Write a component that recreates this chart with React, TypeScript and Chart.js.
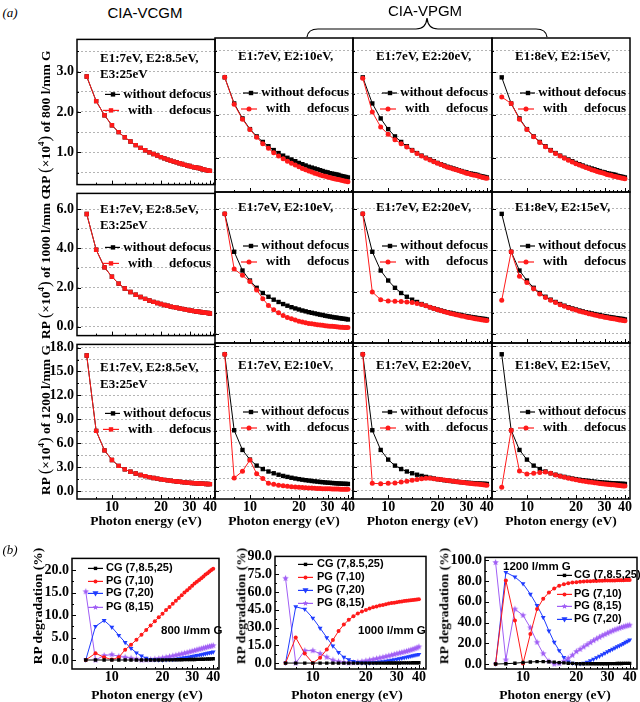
import React, { useEffect, useRef } from 'react';
import { Chart, registerables } from 'chart.js';
Chart.register(...registerables);

const SERIF = "'Liberation Serif', 'Times New Roman', serif";
const SANS = "'Liberation Sans', Arial, sans-serif";

// ---------------- DATA ----------------
const ENERGY = [7, 8, 9, 10, 11, 12, 13, 14, 15, 16, 17, 18, 19, 20, 21, 22, 23, 24, 25, 26, 27, 28, 29, 30, 31, 32, 33, 34, 35, 36, 37, 38, 39, 40];

// (a) RP (x10^4) of 800 l/mm G
const RP800_WITHOUT = [2.88, 2.27, 1.92, 1.67, 1.50, 1.37, 1.27, 1.18, 1.11, 1.05, 1.00, 0.96, 0.92, 0.88, 0.85, 0.82, 0.79, 0.77, 0.75, 0.73, 0.71, 0.69, 0.67, 0.66, 0.64, 0.63, 0.62, 0.61, 0.60, 0.58, 0.57, 0.56, 0.55, 0.54];
const RP800_WITH_CG = [2.88, 2.27, 1.92, 1.67, 1.50, 1.37, 1.27, 1.18, 1.11, 1.05, 1.00, 0.96, 0.92, 0.88, 0.85, 0.82, 0.79, 0.77, 0.75, 0.73, 0.71, 0.69, 0.67, 0.66, 0.64, 0.63, 0.62, 0.61, 0.60, 0.58, 0.57, 0.56, 0.55, 0.54];
const RP800_WITH_710 = [2.88, 2.25, 1.90, 1.66, 1.48, 1.33, 1.22, 1.12, 1.04, 0.98, 0.92, 0.87, 0.83, 0.79, 0.75, 0.72, 0.69, 0.67, 0.64, 0.62, 0.60, 0.58, 0.57, 0.55, 0.54, 0.52, 0.51, 0.50, 0.49, 0.48, 0.47, 0.46, 0.45, 0.44];
const RP800_WITH_720 = [2.86, 2.07, 1.72, 1.55, 1.42, 1.33, 1.25, 1.17, 1.10, 1.04, 0.99, 0.95, 0.91, 0.87, 0.84, 0.81, 0.78, 0.76, 0.74, 0.72, 0.70, 0.68, 0.66, 0.64, 0.63, 0.61, 0.60, 0.59, 0.58, 0.56, 0.55, 0.54, 0.53, 0.52];
const RP800_WITH_815 = [2.42, 2.27, 1.90, 1.66, 1.49, 1.36, 1.26, 1.17, 1.10, 1.04, 0.99, 0.94, 0.90, 0.86, 0.83, 0.80, 0.77, 0.75, 0.72, 0.70, 0.68, 0.66, 0.65, 0.63, 0.61, 0.60, 0.59, 0.57, 0.56, 0.55, 0.54, 0.53, 0.52, 0.51];

// (a) RP (x10^4) of 1000 l/mm G
const RP1000_WITHOUT = [5.75, 3.93, 3.03, 2.55, 2.20, 1.95, 1.77, 1.63, 1.52, 1.42, 1.34, 1.27, 1.21, 1.16, 1.11, 1.07, 1.03, 1.00, 0.97, 0.94, 0.91, 0.89, 0.86, 0.84, 0.82, 0.80, 0.78, 0.77, 0.75, 0.74, 0.72, 0.71, 0.70, 0.68];
const RP1000_WITH_CG = [5.75, 3.93, 3.03, 2.55, 2.20, 1.95, 1.77, 1.63, 1.52, 1.42, 1.34, 1.27, 1.21, 1.16, 1.11, 1.07, 1.03, 1.00, 0.97, 0.94, 0.91, 0.89, 0.86, 0.84, 0.82, 0.80, 0.78, 0.77, 0.75, 0.74, 0.72, 0.71, 0.70, 0.68];
const RP1000_WITH_710 = [5.75, 3.10, 2.80, 2.50, 2.10, 1.68, 1.35, 1.15, 1.00, 0.87, 0.78, 0.71, 0.65, 0.60, 0.56, 0.52, 0.49, 0.47, 0.45, 0.43, 0.41, 0.40, 0.38, 0.37, 0.36, 0.35, 0.34, 0.33, 0.32, 0.31, 0.31, 0.30, 0.30, 0.29];
const RP1000_WITH_720 = [5.75, 2.00, 1.63, 1.57, 1.55, 1.54, 1.52, 1.49, 1.45, 1.40, 1.34, 1.27, 1.21, 1.15, 1.10, 1.05, 1.01, 0.97, 0.94, 0.91, 0.88, 0.85, 0.83, 0.80, 0.78, 0.76, 0.74, 0.72, 0.70, 0.69, 0.67, 0.66, 0.64, 0.63];
const RP1000_WITH_815 = [1.60, 3.93, 2.75, 2.45, 2.15, 1.90, 1.73, 1.60, 1.49, 1.39, 1.31, 1.24, 1.18, 1.13, 1.08, 1.04, 1.00, 0.96, 0.93, 0.90, 0.87, 0.84, 0.82, 0.79, 0.77, 0.75, 0.73, 0.71, 0.70, 0.68, 0.66, 0.65, 0.63, 0.62];

// (a) RP (x10^4) of 1200 l/mm G
const RP1200_WITHOUT = [17.0, 7.55, 5.10, 3.90, 3.15, 2.72, 2.42, 2.20, 2.02, 1.87, 1.75, 1.64, 1.55, 1.47, 1.40, 1.34, 1.29, 1.24, 1.20, 1.16, 1.12, 1.09, 1.06, 1.03, 1.01, 0.99, 0.97, 0.95, 0.93, 0.92, 0.90, 0.89, 0.88, 0.87];
const RP1200_WITH_CG = [17.0, 7.55, 5.10, 3.90, 3.15, 2.72, 2.42, 2.20, 2.02, 1.87, 1.75, 1.64, 1.55, 1.47, 1.40, 1.34, 1.29, 1.24, 1.20, 1.16, 1.12, 1.09, 1.06, 1.03, 1.01, 0.99, 0.97, 0.95, 0.93, 0.92, 0.90, 0.89, 0.88, 0.87];
const RP1200_WITH_710 = [17.0, 1.60, 2.45, 3.85, 2.15, 1.55, 0.95, 0.82, 0.72, 0.64, 0.58, 0.53, 0.49, 0.46, 0.43, 0.40, 0.38, 0.36, 0.34, 0.32, 0.30, 0.29, 0.28, 0.27, 0.26, 0.25, 0.24, 0.23, 0.23, 0.22, 0.22, 0.21, 0.21, 0.20];
const RP1200_WITH_720 = [17.0, 0.95, 0.90, 0.95, 1.00, 1.10, 1.20, 1.32, 1.43, 1.52, 1.58, 1.57, 1.52, 1.47, 1.42, 1.36, 1.31, 1.26, 1.21, 1.16, 1.12, 1.08, 1.04, 1.00, 0.97, 0.94, 0.91, 0.88, 0.85, 0.82, 0.79, 0.76, 0.73, 0.70];
const RP1200_WITH_815 = [0.45, 7.55, 2.48, 2.10, 2.20, 2.30, 2.35, 2.20, 2.00, 1.84, 1.70, 1.58, 1.48, 1.39, 1.31, 1.24, 1.18, 1.12, 1.07, 1.02, 0.98, 0.94, 0.90, 0.87, 0.84, 0.81, 0.78, 0.76, 0.73, 0.71, 0.68, 0.66, 0.63, 0.61];

// (b) RP degradation (%)
const DEG800_CG = [0, 0, 0, 0, 0, 0, 0, 0, 0, 0, 0, 0, 0, 0, 0.02, 0.03, 0.04, 0.05, 0.06, 0.07, 0.08, 0.09, 0.10, 0.11, 0.12, 0.14, 0.15, 0.17, 0.18, 0.20, 0.22, 0.24, 0.26, 0.28];
const DEG800_PG710 = [0, 1.5, 0.6, 0.1, 0.6, 2.3, 3.4, 4.5, 5.6, 6.7, 7.7, 8.6, 9.5, 10.3, 11.1, 11.8, 12.5, 13.2, 13.8, 14.4, 15.0, 15.5, 16.0, 16.5, 17.0, 17.4, 17.8, 18.2, 18.6, 19.0, 19.3, 19.7, 20.0, 20.3];
const DEG800_PG720 = [0, 7.5, 8.8, 7.3, 5.5, 3.9, 2.6, 1.6, 0.9, 0.4, 0.15, 0.05, 0, 0, 0.05, 0.1, 0.15, 0.2, 0.3, 0.4, 0.5, 0.6, 0.7, 0.8, 0.9, 1.0, 1.1, 1.2, 1.3, 1.4, 1.5, 1.6, 1.7, 1.8];
const DEG800_PG815 = [15.2, 0, 1.0, 1.2, 0.8, 0.6, 0.4, 0.2, 0, 0.05, 0.1, 0.2, 0.3, 0.45, 0.6, 0.75, 0.9, 1.05, 1.2, 1.35, 1.5, 1.65, 1.8, 1.95, 2.1, 2.25, 2.4, 2.5, 2.65, 2.75, 2.9, 3.0, 3.1, 3.2];

const DEG1000_CG = [0, 0, 0, 0, 0, 0, 0, 0, 0, 0, 0, 0, 0, 0, 0, 0, 0, 0, 0, 0, 0.05, 0.05, 0.1, 0.1, 0.1, 0.15, 0.15, 0.2, 0.2, 0.2, 0.25, 0.25, 0.3, 0.3];
const DEG1000_PG710 = [0, 21.5, 8, 0, 4.5, 11.5, 19.5, 27, 32.5, 36.5, 39.5, 41.8, 43.5, 44.8, 46, 47, 47.8, 48.5, 49.1, 49.7, 50.2, 50.6, 51.0, 51.4, 51.7, 52.0, 52.3, 52.6, 52.8, 53.0, 53.2, 53.4, 53.6, 53.8];
const DEG1000_PG720 = [0, 47.5, 45.5, 38, 29.5, 21.5, 14.5, 9, 5, 2.8, 1.4, 0.6, 0.2, 0.1, 0.1, 0.3, 0.6, 0.9, 1.3, 1.7, 2.1, 2.5, 2.9, 3.3, 3.7, 4.1, 4.5, 4.9, 5.4, 5.8, 6.2, 6.6, 7.0, 7.4];
const DEG1000_PG815 = [71.5, 0, 10.5, 10.5, 8, 5, 2.5, 1.2, 0.5, 0.2, 0.4, 0.8, 1.3, 1.9, 2.5, 3.1, 3.7, 4.3, 4.9, 5.5, 6.1, 6.7, 7.3, 7.9, 8.4, 8.9, 9.4, 9.9, 10.4, 11.0, 11.6, 12.2, 12.8, 13.7];

const DEG1200_CG = [0, 0.3, 0.8, 1.5, 2.0, 2.3, 2.3, 2.2, 1.8, 1.4, 1.1, 0.8, 0.6, 0.4, 0.3, 0.2, 0.2, 0.2, 0.2, 0.2, 0.3, 0.3, 0.3, 0.3, 0.4, 0.4, 0.4, 0.5, 0.5, 0.5, 0.6, 0.6, 0.6, 0.6];
const DEG1200_PG710 = [0, 80.5, 42, 0.5, 29, 53, 63, 69, 73, 75.5, 77, 78, 78.6, 79, 79.3, 79.6, 79.8, 80, 80.1, 80.2, 80.3, 80.4, 80.5, 80.6, 80.6, 80.7, 80.7, 80.8, 80.8, 80.9, 80.9, 81, 81, 81];
const DEG1200_PG815 = [98, 4, 53, 47, 35, 21, 10, 2.6, 0, 0.5, 2.5, 5.5, 8.5, 12, 14.2, 16.5, 18.7, 20.7, 22.6, 24.3, 25.9, 27.3, 28.6, 29.8, 31, 32, 33, 33.8, 34.6, 35.3, 36, 36.6, 37.1, 37.5];
const DEG1200_PG720 = [0, 88.5, 84, 77.5, 67.5, 56.5, 45, 32, 21, 13, 6.5, 2.3, 0.8, 0, 0.2, 0.8, 1.9, 3.2, 4.6, 6.1, 7.6, 9.1, 10.5, 11.9, 13.2, 14.4, 15.6, 16.7, 17.7, 18.8, 19.9, 21, 22.1, 23.2];

// tick values
const X_LABELS = [10, 20, 30, 40];
const X_MINOR = [8, 12, 14, 16, 18, 22, 24, 26, 28, 32, 34, 36, 38, 42];
const Y800_GRID = [0.5, 1, 1.5, 2, 2.5, 3, 3.5];
const Y800_MAJOR = [1, 2, 3];
const Y1000_GRID = [0, 1, 2, 3, 4, 5, 6];
const Y1000_MAJOR = [0, 2, 4, 6];
const Y1200_GRID = [0, 1.5, 3, 4.5, 6, 7.5, 9, 10.5, 12, 13.5, 15, 16.5, 18];
const Y1200_MAJOR = [0, 3, 6, 9, 12, 15, 18];
const B800_MAJOR = [0, 5, 10, 15, 20];
const B800_MINOR = [2.5, 7.5, 12.5, 17.5];
const B1000_MAJOR = [0, 15, 30, 45, 60, 75, 90];
const B1000_MINOR = [7.5, 22.5, 37.5, 52.5, 67.5, 82.5];
const B1200_MAJOR = [0, 20, 40, 60, 80, 100];
const B1200_MINOR = [10, 30, 50, 70, 90];

const COL_TEXT = ['E1:7eV, E2:8.5eV,', 'E1:7eV, E2:10eV,', 'E1:7eV, E2:20eV,', 'E1:8eV, E2:15eV,'];
const ROW_TITLE = ['800', '1000', '1200'];

// ---------------- STYLE ----------------
const RED = '#ff1a1a';
const BLUE = '#1f3cff';
const PURPLE = '#a05ef5';

const starCache: Record<string, HTMLCanvasElement> = {};
function starImage(color: string, r: number): HTMLCanvasElement {
  const key = color + r;
  if (starCache[key]) return starCache[key];
  const s = Math.ceil(r * 2 + 2);
  const c = document.createElement('canvas');
  c.width = s; c.height = s;
  const g = c.getContext('2d')!;
  g.fillStyle = color;
  g.beginPath();
  for (let i = 0; i < 10; i++) {
    const ang = -Math.PI / 2 + (i * Math.PI) / 5;
    const rr = i % 2 === 0 ? r : r * 0.45;
    const x = s / 2 + rr * Math.cos(ang), y = s / 2 + rr * Math.sin(ang);
    if (i === 0) g.moveTo(x, y); else g.lineTo(x, y);
  }
  g.closePath();
  g.fill();
  starCache[key] = c;
  return c;
}

function series(arr: number[], color: string, style: any, radius: number, rotation = 0) {
  return {
    data: ENERGY.map((e, i) => ({ x: e, y: arr[i] })),
    borderColor: color,
    backgroundColor: color,
    borderWidth: 1,
    pointStyle: style,
    pointRadius: radius,
    pointRotation: rotation,
    pointBorderWidth: 0,
    pointBackgroundColor: color,
    pointBorderColor: color,
    tension: 0,
    fill: false,
  };
}

function drawMarker(ctx: CanvasRenderingContext2D, m: string, x: number, y: number, r: number, color: string) {
  ctx.fillStyle = color;
  ctx.beginPath();
  if (m === 'rect') {
    ctx.rect(x - r, y - r, 2 * r, 2 * r);
  } else if (m === 'circle') {
    ctx.arc(x, y, r, 0, Math.PI * 2);
  } else if (m === 'tri') {
    ctx.moveTo(x - r, y - r * 0.7);
    ctx.lineTo(x + r, y - r * 0.7);
    ctx.lineTo(x, y + r);
    ctx.closePath();
  } else if (m === 'star') {
    for (let i = 0; i < 10; i++) {
      const ang = -Math.PI / 2 + (i * Math.PI) / 5;
      const rr = i % 2 === 0 ? r : r * 0.45;
      const px = x + rr * Math.cos(ang), py = y + rr * Math.sin(ang);
      if (i === 0) ctx.moveTo(px, py); else ctx.lineTo(px, py);
    }
    ctx.closePath();
  }
  ctx.fill();
}

type Decor = {
  yMarks: [number, number][];
  xMarks: [number, number][];
  texts: { text: string; x: number; y: number; align: CanvasTextAlign; font: string; color?: string; fromRight?: boolean }[];
  samples: { x1: number; x2: number; mx: number; y: number; color: string; marker: string; r: number; fromRight?: boolean }[];
};

function drawDecor(chart: any, d: Decor) {
  const { ctx, chartArea: a } = chart;
  const xs = chart.scales.x, ys = chart.scales.y;
  ctx.save();
  ctx.strokeStyle = '#000';
  ctx.lineWidth = 1;
  ctx.beginPath();
  for (const [v, len] of d.yMarks) {
    const py = Math.round(ys.getPixelForValue(v)) + 0.5;
    if (py < a.top || py > a.bottom) continue;
    ctx.moveTo(a.left, py);
    ctx.lineTo(a.left + len, py);
  }
  for (const [v, len] of d.xMarks) {
    const px = Math.round(xs.getPixelForValue(v)) + 0.5;
    if (px < a.left || px > a.right) continue;
    ctx.moveTo(px, a.bottom);
    ctx.lineTo(px, a.bottom - len);
  }
  ctx.stroke();
  ctx.lineWidth = 1.5;
  ctx.strokeRect(a.left, a.top, a.right - a.left, a.bottom - a.top);
  for (const t of d.texts) {
    ctx.font = t.font;
    ctx.fillStyle = t.color || '#000';
    ctx.textAlign = t.align;
    ctx.textBaseline = 'middle';
    const x = t.fromRight ? a.right + t.x : a.left + t.x;
    ctx.fillText(t.text, x, a.top + t.y);
  }
  for (const s of d.samples) {
    const base = s.fromRight ? a.right : a.left;
    ctx.strokeStyle = s.color;
    ctx.lineWidth = 1.2;
    ctx.beginPath();
    ctx.moveTo(base + s.x1, a.top + s.y);
    ctx.lineTo(base + s.x2, a.top + s.y);
    ctx.stroke();
    drawMarker(ctx, s.marker, base + s.mx, a.top + s.y, s.r, s.color);
  }
  ctx.restore();
}

type PanelProps = {
  l: number; t: number; w: number; h: number;
  padL: number; padB: number;
  showX: boolean; showY: boolean;
  xMin: number; xMax: number; yMin: number; yMax: number;
  yTicks: number[]; yLabeled: number[]; gridLines: boolean;
  datasets: any[]; decor: Decor;
};

const PT = 10, PR = 12;

function Panel(p: PanelProps) {
  const ref = useRef<HTMLCanvasElement>(null);
  const cw = p.w + p.padL + PR, ch = p.h + PT + p.padB;
  useEffect(() => {
    const tickFont = { family: SERIF, size: 14, weight: 'bold' as const };
    const chart = new Chart(ref.current!, {
      type: 'line',
      data: { datasets: p.datasets },
      options: {
        responsive: false,
        animation: false,
        devicePixelRatio: 1,
        layout: { padding: { top: PT, right: PR, left: 0, bottom: 0 } },
        plugins: { legend: { display: false }, tooltip: { enabled: false } },
        scales: {
          x: {
            type: 'logarithmic',
            min: p.xMin,
            max: p.xMax,
            afterFit: (s: any) => { s.height = p.padB; },
            afterBuildTicks: (s: any) => { s.ticks = X_LABELS.map((v) => ({ value: v })); },
            ticks: {
              display: p.showX,
              autoSkip: false,
              maxRotation: 0,
              padding: 0,
              color: '#000',
              font: tickFont,
              callback: (v: any) => String(v),
            },
            grid: { display: false, drawTicks: false },
            border: { display: false },
          },
          y: {
            type: 'linear',
            min: p.yMin,
            max: p.yMax,
            afterFit: (s: any) => { s.width = p.padL; },
            afterBuildTicks: (s: any) => { s.ticks = p.yTicks.map((v) => ({ value: v })); },
            ticks: {
              display: p.showY,
              autoSkip: false,
              padding: 3,
              color: '#000',
              font: tickFont,
              callback: (v: any) => (p.yLabeled.includes(Number(v)) ? Number(v).toFixed(1) : ''),
            },
            grid: { display: p.gridLines, drawTicks: false, color: '#b4b4b4', lineWidth: 1 },
            border: { display: false, dash: [2, 2] },
          },
        },
      } as any,
      plugins: [{ id: 'decor', afterDraw: (c: any) => drawDecor(c, p.decor) }],
    });
    return () => chart.destroy();
  }, []);
  return (
    <canvas
      ref={ref}
      width={cw}
      height={ch}
      style={{ position: 'absolute', left: p.l - p.padL, top: p.t - PT, width: cw, height: ch }}
    />
  );
}

// ---------------- LAYOUT ----------------
const A_LEFT = [77, 215, 353, 492];
const A_WIDTH = [138, 138, 139, 138];
const A_TOP = [38, 192, 343];
const A_HEIGHT = [154, 151, 156];
const A_TEXT_Y = [
  { e: 19, e3: 35, l1: 55, l2: 71 },
  { e: 16, e3: 32, l1: 54, l2: 70 },
  { e: 23, e3: 40, l1: 69, l2: 85 },
];

const ROWS = [
  { min: 0.2, max: 3.8, grid: Y800_GRID, major: Y800_MAJOR, without: RP800_WITHOUT, withs: [RP800_WITH_CG, RP800_WITH_710, RP800_WITH_720, RP800_WITH_815] },
  { min: -0.45, max: 6.8, grid: Y1000_GRID, major: Y1000_MAJOR, without: RP1000_WITHOUT, withs: [RP1000_WITH_CG, RP1000_WITH_710, RP1000_WITH_720, RP1000_WITH_815] },
  { min: -1.0, max: 18.4, grid: Y1200_GRID, major: Y1200_MAJOR, without: RP1200_WITHOUT, withs: [RP1200_WITH_CG, RP1200_WITH_710, RP1200_WITH_720, RP1200_WITH_815] },
];

const xMarks: [number, number][] = [...X_LABELS.map((v) => [v, 4] as [number, number]), ...X_MINOR.map((v) => [v, 2] as [number, number])];
const FONT_A = `bold 13px ${SERIF}`;
const FONT_B = `bold 11px ${SANS}`;

function buildA() {
  const panels: PanelProps[] = [];
  for (let r = 0; r < 3; r++) {
    for (let c = 0; c < 4; c++) {
      const row = ROWS[r];
      const ty = A_TEXT_Y[r];
      const redStyle = c === 0 ? 'rect' : 'circle';
      const texts: Decor['texts'] = [
        { text: COL_TEXT[c], x: 23, y: ty.e, align: 'left', font: FONT_A },
        { text: 'without defocus', x: -4, y: ty.l1, align: 'right', font: FONT_A, fromRight: true },
        { text: 'with', x: -87, y: ty.l2, align: 'left', font: FONT_A, fromRight: true },
        { text: 'defocus', x: -4, y: ty.l2, align: 'right', font: FONT_A, fromRight: true },
      ];
      if (c === 0) texts.push({ text: 'E3:25eV', x: 23, y: ty.e3, align: 'left', font: FONT_A });
      const yMarks: [number, number][] = row.grid.map((v) => [v, row.major.includes(v) ? 4 : 2] as [number, number]);
      panels.push({
        l: A_LEFT[c], t: A_TOP[r], w: A_WIDTH[c], h: A_HEIGHT[r],
        padL: c === 0 ? 77 : 6, padB: r === 2 ? 24 : 4,
        showX: r === 2, showY: c === 0,
        xMin: 6.1, xMax: 43, yMin: row.min, yMax: row.max,
        yTicks: row.grid, yLabeled: row.major, gridLines: true,
        datasets: [
          series(row.withs[c], RED, redStyle, redStyle === 'rect' ? 3.1 : 2.5),
          series(row.without, '#000', 'rect', 3.1),
        ],
        decor: {
          yMarks, xMarks, texts,
          samples: [
            { x1: -110, x2: -95, mx: -102, y: ty.l1, color: '#000', marker: 'rect', r: 2.2, fromRight: true },
            { x1: -112, x2: -96, mx: -104, y: ty.l2, color: RED, marker: redStyle, r: redStyle === 'rect' ? 2.2 : 2.5, fromRight: true },
          ],
        },
      });
    }
  }
  return panels;
}

function buildB(
  l: number, t: number, w: number, h: number, padL: number,
  xMin: number, xMax: number, yMin: number, yMax: number,
  major: number[], minor: number[],
  sets: { arr: number[]; color: string; marker: string; label: string }[],
  legend: { x1: number; x2: number; tx: number; ys: number[] },
  label: { text: string; x: number; y: number },
): PanelProps {
  const ds = sets.map((s) => {
    if (s.marker === 'star') return series(s.arr, s.color, starImage(s.color, 3.4), 3);
    if (s.marker === 'tri') return series(s.arr, s.color, 'triangle', 2.8, 180);
    if (s.marker === 'rect') return series(s.arr, s.color, 'rect', 2.4);
    return series(s.arr, s.color, 'circle', 2);
  });
  const texts: Decor['texts'] = sets.map((s, i) => ({ text: s.label, x: legend.tx, y: legend.ys[i], align: 'left' as CanvasTextAlign, font: FONT_B }));
  texts.push({ text: label.text, x: label.x, y: label.y, align: 'left', font: `bold 11.5px ${SANS}` });
  const samples: Decor['samples'] = sets.map((s, i) => ({
    x1: legend.x1, x2: legend.x2, mx: (legend.x1 + legend.x2) / 2, y: legend.ys[i], color: s.color, marker: s.marker,
    r: s.marker === 'circle' ? 2 : s.marker === 'rect' ? 1.7 : 3, fromRight: false,
  }));
  return {
    l, t, w, h, padL, padB: 24, showX: true, showY: true,
    xMin, xMax, yMin, yMax,
    yTicks: major, yLabeled: major, gridLines: false,
    datasets: ds,
    decor: {
      yMarks: [...major.map((v) => [v, 4] as [number, number]), ...minor.map((v) => [v, 2] as [number, number])],
      xMarks, texts, samples,
    },
  };
}

function buildBPanels(): PanelProps[] {
  const b1 = buildB(72, 557, 147, 112, 72, 5.8, 43.3, -2, 22.6, B800_MAJOR, B800_MINOR, [
    { arr: DEG800_CG, color: '#000', marker: 'rect', label: 'CG (7,8.5,25)' },
    { arr: DEG800_PG710, color: RED, marker: 'circle', label: 'PG (7,10)' },
    { arr: DEG800_PG720, color: BLUE, marker: 'tri', label: 'PG (7,20)' },
    { arr: DEG800_PG815, color: PURPLE, marker: 'star', label: 'PG (8,15)' },
  ], { x1: 16, x2: 31, tx: 34, ys: [10, 23, 35, 49] }, { text: '800 l/mm G', x: 89, y: 72 });
  const b2 = buildB(275, 555, 151, 114, 60, 6.1, 43.9, -5, 90, B1000_MAJOR, B1000_MINOR, [
    { arr: DEG1000_CG, color: '#000', marker: 'rect', label: 'CG (7,8.5,25)' },
    { arr: DEG1000_PG710, color: RED, marker: 'circle', label: 'PG (7,10)' },
    { arr: DEG1000_PG720, color: BLUE, marker: 'tri', label: 'PG (7,20)' },
    { arr: DEG1000_PG815, color: PURPLE, marker: 'star', label: 'PG (8,15)' },
  ], { x1: 23, x2: 38, tx: 42, ys: [8, 21, 34, 47] }, { text: '1000 l/mm G', x: 83, y: 74 });
  const b3 = buildB(485, 556, 152, 113, 55, 6.1, 44, -4.8, 102.9, B1200_MAJOR, B1200_MINOR, [
    { arr: DEG1200_CG, color: '#000', marker: 'rect', label: 'CG (7,8.5,25)' },
    { arr: DEG1200_PG710, color: RED, marker: 'circle', label: 'PG (7,10)' },
    { arr: DEG1200_PG815, color: PURPLE, marker: 'star', label: 'PG (8,15)' },
    { arr: DEG1200_PG720, color: BLUE, marker: 'tri', label: 'PG (7,20)' },
  ], { x1: 72, x2: 87, tx: 89, ys: [18, 37, 49, 62] }, { text: '1200 l/mm G', x: 18, y: 9 });
  return [b1, b2, b3];
}

const txt = (left: number, top: number, content: React.ReactNode, font: string, extra: React.CSSProperties = {}) => (
  <div style={{ position: 'absolute', left, top, transform: 'translate(-50%, -50%)', font, whiteSpace: 'nowrap', color: '#000', lineHeight: 1, ...extra }}>
    {content}
  </div>
);
const vtxt = (left: number, top: number, content: React.ReactNode, font: string) => (
  <div style={{ position: 'absolute', left, top, transform: 'translate(-50%, -50%) rotate(-90deg)', font, whiteSpace: 'nowrap', color: '#000', lineHeight: 1 }}>
    {content}
  </div>
);

export default function App() {
  const aPanels = buildA();
  const bPanels = buildBPanels();
  const titleFont = `bold 13.5px ${SERIF}`;
  const rowCenters = [122, 264, 420];
  const paren: React.CSSProperties = { fontSize: '17px', fontWeight: 'normal' };
  return (
    <div style={{ position: 'absolute', left: 0, top: 0, width: 640, height: 702, background: '#fff', overflow: 'hidden' }}>
      {aPanels.map((p, i) => <Panel key={'a' + i} {...p} />)}
      {bPanels.map((p, i) => <Panel key={'b' + i} {...p} />)}
      {txt(10, 12, '(a)', `italic 13px ${SERIF}`)}
      {txt(10, 549, '(b)', `italic 13px ${SERIF}`)}
      {txt(145, 12, 'CIA-VCGM', `15px ${SANS}`)}
      {txt(425, 10, 'CIA-VPGM', `15px ${SANS}`)}
      <svg style={{ position: 'absolute', left: 0, top: 0 }} width={640} height={60}>
        <path d="M 307 37 Q 308 29 318 29 L 416 29 Q 426 29 427 18 Q 428 29 438 29 L 536 29 Q 546 29 547 37" fill="none" stroke="#000" strokeWidth={1.2} />
      </svg>
      {ROW_TITLE.map((g, r) =>
        <React.Fragment key={'yt' + r}>
          {vtxt(44, rowCenters[r], <span>RP <span style={paren}>(</span>×10<sup style={{ fontSize: '9px' }}>4</sup><span style={paren}>)</span> of {g} l/mm G</span>, titleFont)}
        </React.Fragment>
      )}
      {A_LEFT.map((l, c) =>
        <React.Fragment key={'xt' + c}>{txt(l + A_WIDTH[c] / 2, 521, 'Photon energy (eV)', titleFont)}</React.Fragment>
      )}
      {txt(147, 695, 'Photon energy (eV)', titleFont)}
      {txt(347, 695, 'Photon energy (eV)', titleFont)}
      {txt(555, 695, 'Photon energy (eV)', titleFont)}
      {vtxt(38, 606, 'RP degradation (%)', titleFont)}
      {vtxt(241, 606, 'RP degradation (%)', titleFont)}
      {vtxt(444, 606, 'RP degradation (%)', titleFont)}
    </div>
  );
}
